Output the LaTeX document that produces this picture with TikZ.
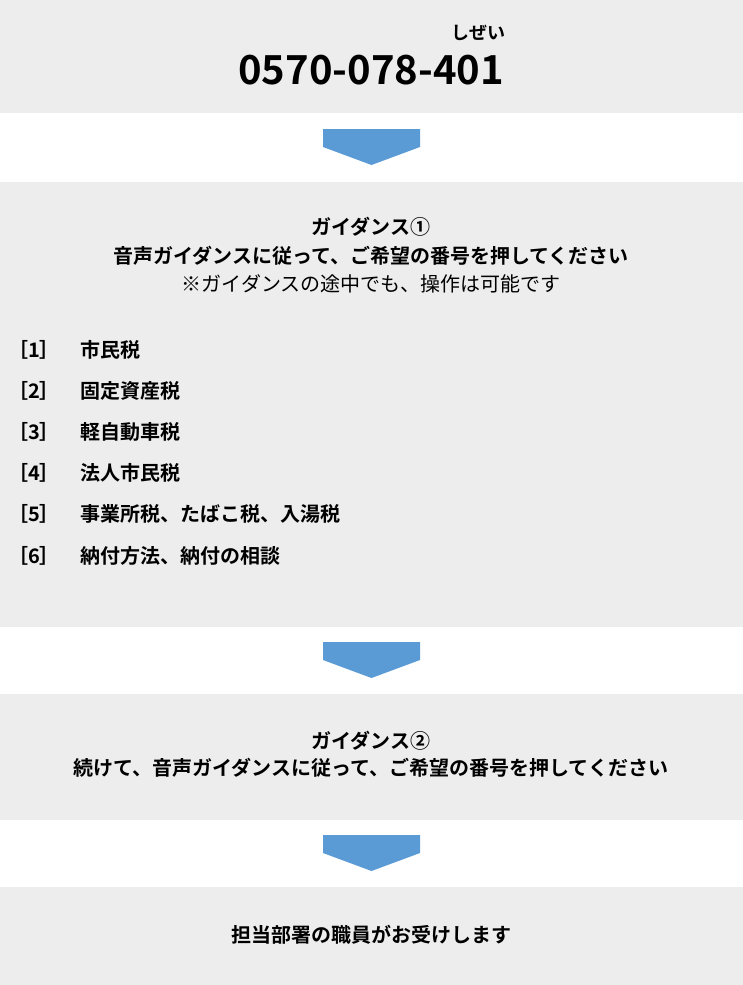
\documentclass[tikz,border=0pt]{standalone}
\usepackage{fontspec}
\newfontfamily\jp{Noto Sans CJK JP}
\newfontfamily\jpb{Noto Sans CJK JP Bold}
\definecolor{bg}{HTML}{EDEDED}
\definecolor{arr}{HTML}{5B9BD5}
\begin{document}
\begin{tikzpicture}[x=1pt,y=-1pt,
  band/.style={fill=bg,draw=none},
  chev/.style={fill=arr,draw=none},
  bt/.style={font=\jpb\fontsize{20}{24}\selectfont,inner sep=0},
  rt/.style={font=\jp\fontsize{20}{24}\selectfont,inner sep=0},
  item/.style={font=\jpb\fontsize{20}{24}\selectfont,inner sep=0,anchor=west}]
\useasboundingbox (0,0) rectangle (743,985);
\fill[band] (0,0) rectangle (743,113);
\fill[band] (0,182) rectangle (743,627);
\fill[band] (0,694) rectangle (743,820);
\fill[band] (0,887) rectangle (743,985);
\foreach \y in {129,642,835}
  \fill[chev] (323,\y) -- (420,\y) -- (420,\y+18) -- (371.5,\y+36) -- (323,\y+18) -- cycle;
\node[font=\jpb\fontsize{18}{20}\selectfont,inner sep=0] (furi) at (478,33) {しぜい};
\node[font=\jpb\fontsize{40}{44}\selectfont,inner sep=0] (tel) at (371,70) {0570-078-401};
\node[bt] (g1) at (371,227) {ガイダンス①};
\node[bt] (g1b) at (371,256) {音声ガイダンスに従って、ご希望の番号を押してください};
\node[rt] (g1c) at (371,284) {※ガイダンスの途中でも、操作は可能です};
\foreach \n/\t/\y in {1/市民税/350,2/固定資産税/391,3/軽自動車税/432,4/法人市民税/473,5/事業所税、たばこ税、入湯税/514,6/納付方法、納付の相談/556}{
  \node[item] (k\n) at (8,\y) {［\n］};
  \node[item] (t\n) at (80,\y) {\t};
}
\node[bt] (g2) at (371,741) {ガイダンス②};
\node[bt] (g2b) at (371,768) {続けて、音声ガイダンスに従って、ご希望の番号を押してください};
\node[bt] (end) at (371,935) {担当部署の職員がお受けします};
\end{tikzpicture}
\end{document}
